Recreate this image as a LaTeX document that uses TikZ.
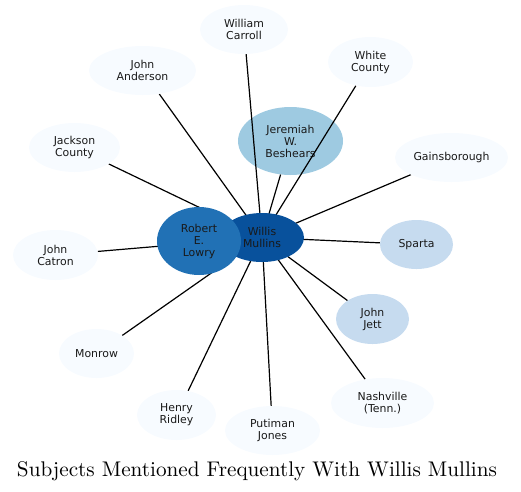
\documentclass[tikz,border=0pt]{standalone}
\usepackage{fontspec}
\newfontfamily\nodefont{DejaVu Sans}
\usetikzlibrary{shapes.geometric,backgrounds}
\pgfdeclarelayer{bottom}
\pgfsetlayers{bottom,background,main}
\definecolor{cA}{HTML}{08519C}
\definecolor{cB}{HTML}{2171B5}
\definecolor{cC}{HTML}{9ECAE1}
\definecolor{cD}{HTML}{C6DBEF}
\definecolor{cE}{HTML}{F7FBFF}
\tikzset{
  bub/.style n args={3}{ellipse, inner sep=0pt, minimum width=#1pt, minimum height=#2pt, fill=#3, draw=none,
     align=center, font=\nodefont\fontsize{10.9}{12}\selectfont, text=black!90},
  link/.style={draw=black, line width=1.2pt}
}
\begin{document}
\begin{tikzpicture}[x=1pt,y=-1pt]
\useasboundingbox (0,0) rectangle (521,491);
\node[bub={84}{49}{cA}] (wm) at (262,237.5) {Willis\\Mullins};
\node[bub={84}{68}{cB}] (rl) at (199,241) {Robert\\E.\\Lowry};
\begin{pgfonlayer}{bottom}
\node[bub={105}{68}{cC}] (jb) at (290.5,141) {Jeremiah\\W.\\Beshears};
\end{pgfonlayer}
\node[bub={88}{49}{cE}] (wc) at (244,29.5) {William\\Carroll};
\node[bub={107}{49}{cE}] (ja) at (142.5,70.5) {John\\Anderson};
\node[bub={85}{50}{cE}] (whc) at (370.5,62) {White\\County};
\node[bub={91}{49}{cE}] (jc) at (74.5,147.5) {Jackson\\County};
\node[bub={113}{49}{cE}] (gb) at (451.5,157.5) {Gainsborough};
\node[bub={73}{49}{cD}] (sp) at (416.5,244.5) {Sparta};
\node[bub={85}{50}{cE}] (jca) at (55.5,255) {John\\Catron};
\node[bub={73}{50}{cD}] (jj) at (372.5,319) {John\\Jett};
\node[bub={75}{49}{cE}] (mo) at (96.5,353.5) {Monrow};
\node[bub={79}{50}{cE}] (hr) at (176.5,415) {Henry\\Ridley};
\node[bub={95}{49}{cE}] (pj) at (272.5,430.5) {Putiman\\Jones};
\node[bub={103}{50}{cE}] (na) at (382.5,403) {Nashville\\(Tenn.)};
\begin{scope}[on background layer]
\foreach \n in {jb,wc,ja,whc,jc,gb,sp,jca,jj,mo,hr,pj,na}
  \draw[link] (\n) -- (wm.center);
\draw[link] (rl.center) -- (wm.center);
\end{scope}
\node[anchor=base] (title) at (257,476.5) {\resizebox{480pt}{!}{Subjects Mentioned Frequently With Willis Mullins}};
\end{tikzpicture}
\end{document}
